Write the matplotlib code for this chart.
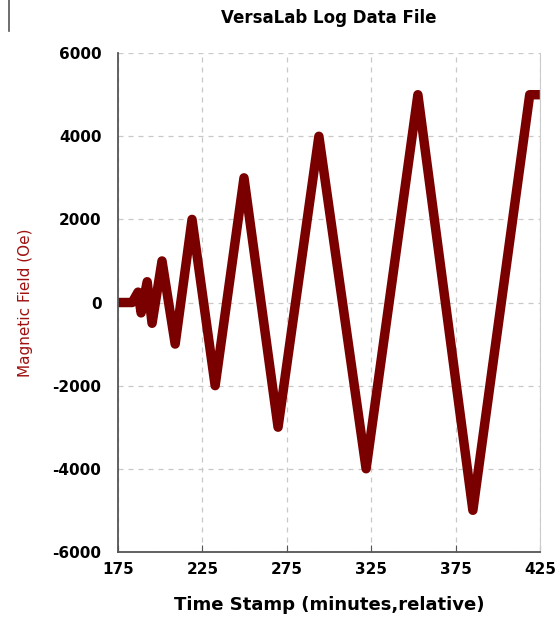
import matplotlib.pyplot as plt
from matplotlib.lines import Line2D

plt.rcParams["axes.unicode_minus"] = False

# field sweep
time_min = [175, 183.3, 186.8, 188.6, 192.2, 195.1, 201.0, 208.8, 218.8, 232.5,
            249.6, 269.8, 294.0, 322.0, 352.7, 385.3, 419.0, 425]
field_oe = [0, 0, 250, -250, 500, -500, 1000, -1000, 2000, -2000,
            3000, -3000, 4000, -4000, 5000, -5000, 5000, 5000]
xticks = [175, 225, 275, 325, 375, 425]
yticks = [-6000, -4000, -2000, 0, 2000, 4000, 6000]

dark_red = "#7a0000"

fig = plt.figure(figsize=(5.6, 6.18), dpi=100)
ax = fig.add_axes([0.211, 0.107, 0.753, 0.807])

ax.plot(time_min, field_oe, color=dark_red, lw=6.8,
        solid_joinstyle="round", solid_capstyle="butt")

ax.set_xlim(175, 425)
ax.set_ylim(-6000, 6000)
ax.set_xticks(xticks)
ax.set_yticks(yticks)
ax.grid(True, ls=(0, (4, 4)), color="#c8c8c8", lw=0.9)

for lab in ax.get_xticklabels() + ax.get_yticklabels():
    lab.set_fontweight("bold")
    lab.set_fontsize(11)
ax.tick_params(axis="x", direction="in", length=5, color="#555555", pad=7)
ax.tick_params(axis="y", length=0, pad=12)

ax.spines["top"].set_visible(False)
ax.spines["right"].set_color("#cccccc")
ax.spines["left"].set_color("#555555")
ax.spines["bottom"].set_color("#555555")
ax.spines["left"].set_linewidth(1.3)
ax.spines["bottom"].set_linewidth(1.3)

ax.set_title("VersaLab Log Data File", fontsize=12, fontweight="bold", pad=22)
ax.set_xlabel("Time Stamp (minutes,relative)", fontsize=13, fontweight="bold", labelpad=14)
ax.set_ylabel("Magnetic Field (Oe)", fontsize=11, color="#a01010", labelpad=14)

# stray border line at the top-left of the scan
fig.add_artist(Line2D([0.016, 0.016], [0.95, 1.0], color="#555555", lw=1.2))

fig.savefig("out.png", dpi=100, facecolor="white")
